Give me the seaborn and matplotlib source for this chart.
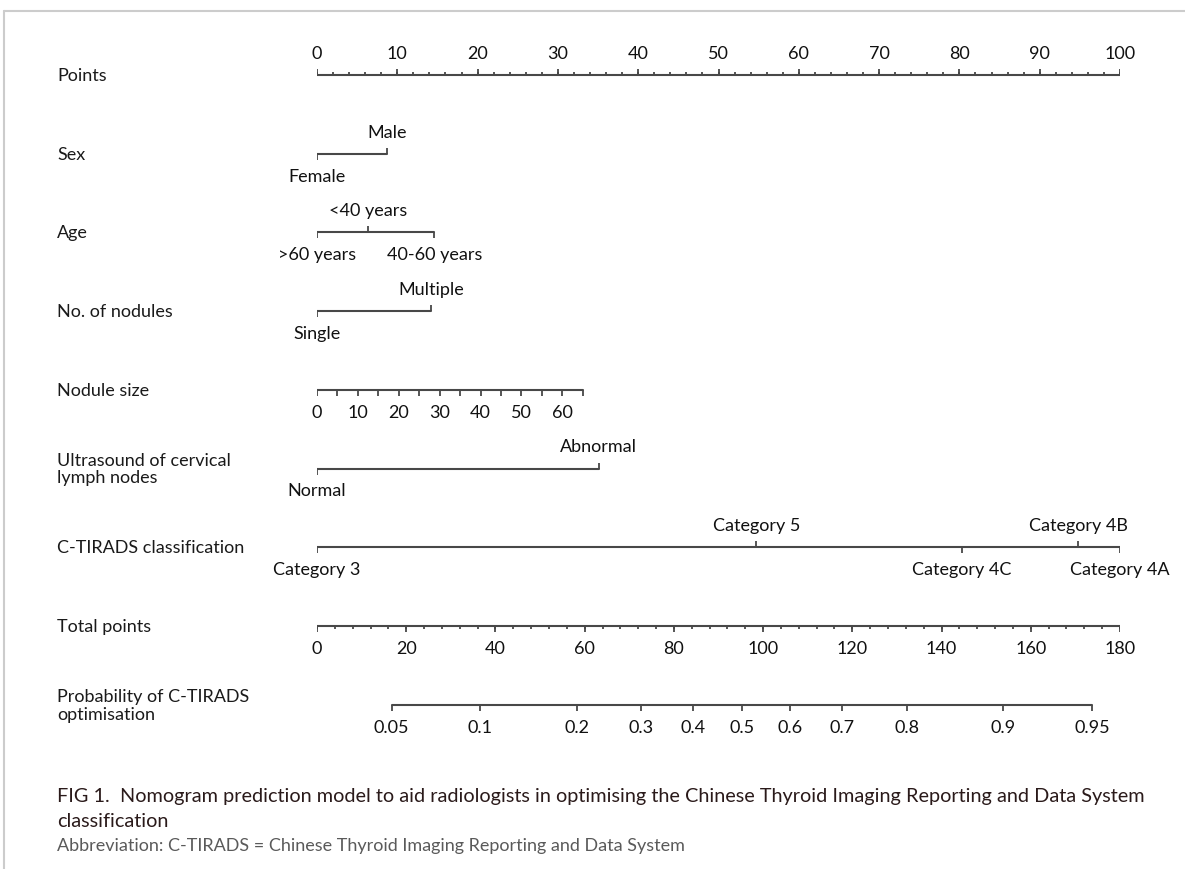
# Nomogram: C-TIRADS optimisation

import numpy as np
import pandas as pd
import seaborn as sns
import matplotlib.pyplot as plt
from matplotlib.lines import Line2D
from matplotlib.transforms import blended_transform_factory

# --- Data ---
row_names = ['Points', 'Sex', 'Age', 'No. of nodules', 'Nodule size',
             'Ultrasound of cervical\nlymph nodes', 'C-TIRADS classification',
             'Total points', 'Probability of C-TIRADS\noptimisation']

points_max = 100
sex_levels = ['Female', 'Male']
sex_points = [0, 8.7]
age_levels = ['>60 years', '<40 years', '40-60 years']
age_points = [0, 6.4, 14.6]
nodule_levels = ['Single', 'Multiple']
nodule_points = [0, 14.2]
size_max_mm = 65
size_points_at_max = 33.1
size_ticks = list(range(0, 66, 5))
size_labels = list(range(0, 61, 10))
us_levels = ['Normal', 'Abnormal']
us_points = [0, 35.1]
tirads_levels = ['Category 3', 'Category 5', 'Category 4C', 'Category 4B', 'Category 4A']
tirads_points = [0, 54.7, 80.3, 94.8, 100]
total_max = 180
prob_ticks = [0.05, 0.1, 0.2, 0.3, 0.4, 0.5, 0.6, 0.7, 0.8, 0.9, 0.95]
prob_labels = ['0.05', '0.1', '0.2', '0.3', '0.4', '0.5', '0.6', '0.7', '0.8', '0.9', '0.95']
total_at_half = 95.2     # total points where probability = 0.5
total_per_logit = 26.66  # total points per unit of linear predictor

# --- Style ---
sns.set_theme(style='white')
plt.rcParams['font.family'] = ['Lato', 'DejaVu Sans']
LINE = '#484848'
FS = 13
W, H = 1185, 870
Y0, STEP = 76, 78.7          # pixel row positions
LAB_OFF = 22                 # label offset from line (px)

fig = plt.figure(figsize=(W / 100, H / 100), dpi=100)
ax = fig.add_axes([317 / W, 0, 803 / W, 1])
ax.set_xlim(0, points_max)
ax.set_ylim(H, 0)
ax.axis('off')

rows_y = [Y0 + i * STEP for i in range(len(row_names))]
left = blended_transform_factory(fig.transFigure, ax.transData)
for name, y in zip(row_names, rows_y):
    ax.text(57 / W, y, name, transform=left, ha='left', va='center',
            fontsize=FS, color='#1a1a1a', linespacing=1.15)


def scale_line(y, x0, x1):
    sns.lineplot(x=[x0, x1], y=[y, y], color=LINE, lw=1.5, ax=ax,
                 estimator=None, legend=False)


def ticks(y, xs, length, up):
    sgn = -1 if up else 1
    ax.vlines(xs, y, y + sgn * length, color=LINE, lw=1.3)


def labels(y, xs, texts, up):
    sgn = -1 if up else 1
    for x, t in zip(xs, texts):
        ax.text(x, y + sgn * LAB_OFF, t, ha='center', va='center',
                fontsize=FS, color='#111111')


def categorical(y, levels, pts):
    order = np.argsort(pts, kind='stable')
    scale_line(y, min(pts), max(pts))
    for k, idx in enumerate(order):
        up = k % 2 == 1
        ticks(y, [pts[idx]], 6, up)
        labels(y, [pts[idx]], [levels[idx]], up)


# Points
y = rows_y[0]
scale_line(y, 0, points_max)
ticks(y, np.arange(0, points_max + 1, 2), 3, True)
ticks(y, np.arange(0, points_max + 1, 10), 6, True)
labels(y, np.arange(0, points_max + 1, 10), [str(v) for v in range(0, 101, 10)], True)

categorical(rows_y[1], sex_levels, sex_points)
categorical(rows_y[2], age_levels, age_points)
categorical(rows_y[3], nodule_levels, nodule_points)

# Nodule size (continuous)
y = rows_y[4]
mm_to_pts = size_points_at_max / size_max_mm
scale_line(y, 0, size_points_at_max)
ticks(y, np.array(size_ticks) * mm_to_pts, 6, False)
labels(y, np.array(size_labels) * mm_to_pts, [str(v) for v in size_labels], False)

categorical(rows_y[5], us_levels, us_points)
categorical(rows_y[6], tirads_levels, tirads_points)

# Total points
y = rows_y[7]
tot_to_pts = points_max / total_max
scale_line(y, 0, total_max * tot_to_pts)
ticks(y, np.arange(0, total_max + 1, 4) * tot_to_pts, 3, False)
ticks(y, np.arange(0, total_max + 1, 20) * tot_to_pts, 6, False)
labels(y, np.arange(0, total_max + 1, 20) * tot_to_pts,
       [str(v) for v in range(0, total_max + 1, 20)], False)

# Probability
y = rows_y[8]
p = np.array(prob_ticks)
tot = total_at_half + total_per_logit * np.log(p / (1 - p))
px = tot * tot_to_pts
scale_line(y, px.min(), px.max())
ticks(y, px, 6, False)
labels(y, px, prob_labels, False)

# --- Caption & frame ---
fig.text(57 / W, 1 - 797 / H, 'FIG 1.  Nomogram prediction model to aid radiologists in optimising the Chinese Thyroid Imaging Reporting and Data System',
         ha='left', va='center', fontsize=14.3, color='#2a1a1a')
fig.text(57 / W, 1 - 822 / H, 'classification', ha='left', va='center',
         fontsize=14.3, color='#2a1a1a')
fig.text(57 / W, 1 - 846 / H, 'Abbreviation: C-TIRADS = Chinese Thyroid Imaging Reporting and Data System',
         ha='left', va='center', fontsize=13, color='#5a5a5a')

fig.add_artist(Line2D([4 / W, 1], [1 - 12 / H, 1 - 12 / H], color='#cccccc', lw=1.5))
fig.add_artist(Line2D([4 / W, 4 / W], [0, 1 - 12 / H], color='#cccccc', lw=1.5))

fig.savefig('out.png', dpi=100)
